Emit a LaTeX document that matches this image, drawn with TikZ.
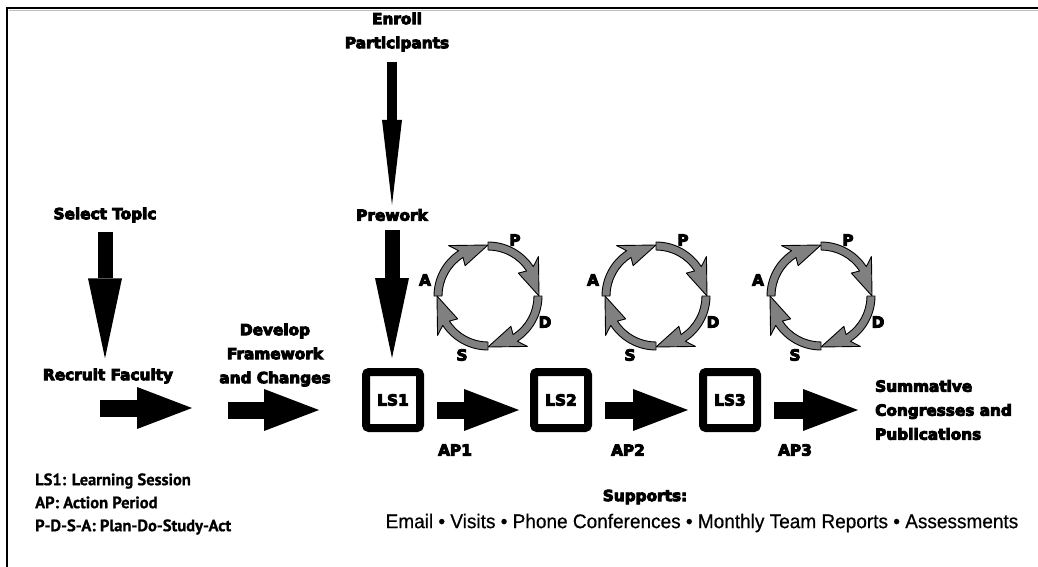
\documentclass[tikz,border=0pt]{standalone}
\usepackage{fontspec}
\usetikzlibrary{arrows.meta}
\newfontfamily\heavyfont{DejaVu Sans}[BoldFeatures={FakeBold=6}]
\newfontfamily\legendfont{PT Sans}[BoldFeatures={FakeBold=0.8}]
\newfontfamily\plainfont{Liberation Sans}[FakeStretch=0.96,FakeBold=0.6]
\definecolor{ringgray}{HTML}{808080}

\begin{document}
\begin{tikzpicture}[x=1pt,y=-1pt,
  every node/.style={inner sep=0pt},
  head/.style={font=\heavyfont\bfseries\fontsize{15.3}{24}\selectfont, align=center},
  tag/.style={font=\heavyfont\bfseries\fontsize{15.3}{18}\selectfont},
  legend/.style={font=\legendfont\bfseries\fontsize{16.5}{23}\selectfont, align=left},
  session/.style={draw, line width=8pt, rounded corners=3pt, minimum width=54pt, minimum height=56pt,
    font=\heavyfont\bfseries\fontsize{15.3}{18}\selectfont},
  downarrow/.style={line width=15pt, -{Triangle[length=80pt,width=34pt,line width=0pt]}},
  thinarrow/.style={line width=10pt, -{Triangle[length=85pt,width=20pt,line width=0pt]}},
  rightarrow/.style={line width=17pt, -{Triangle[length=55pt,width=42pt,line width=0pt]}},
  ring/.style={fill=ringgray, draw=black, line width=0.9pt, line join=round}]

  \useasboundingbox (0,0) rectangle (1038,567);
  % frame
  \draw[black!25, line width=1pt] (9,10.5) -- (1038,10.5);
  \draw[line width=1.6pt] (7,567) -- (7,8) -- (1038,8);

  % planning steps
  \node[head] (topic) at (105,215) {Select Topic};
  \node[head] (faculty) at (108,376) {Recruit Faculty};
  \node[head] (develop) at (275,355) {Develop\\Framework\\and Changes};
  \node[head] (enroll) at (397,32) {Enroll\\Participants};
  \node[head] (prework) at (392,215) {Prework};
  \draw[downarrow, shorten <=9pt, shorten >=10pt] (topic.south) -- (topic.south |- faculty.north);
  \draw[thinarrow, shorten <=10pt, shorten >=4pt] (enroll.south -| prework.north) -- (prework.north);
  \coordinate (f0) at (100,408); \coordinate (f1) at (192,408);
  \coordinate (d0) at (228,410); \coordinate (d1) at (319,410);
  \draw[rightarrow] (f0) -- (f1);
  \draw[rightarrow] (d0) -- (d1);

  % learning sessions and action periods
  \node[session] (ls1) at (393,400) {LS1};
  \node[session] (ls2) at (561,400) {LS2};
  \node[session] (ls3) at (730,400) {LS3};
  \node[head, align=left, anchor=west] (summative) at (875,410) {Summative\\Congresses and\\Publications};
  \draw[downarrow, shorten <=9pt, shorten >=10pt] (prework.south) -- (prework.south |- ls1.north);
  \draw[rightarrow, shorten <=13pt, shorten >=11pt] ([yshift=-10pt]ls1.east) -- ([yshift=-10pt]ls2.west);
  \draw[rightarrow, shorten <=13pt, shorten >=11pt] ([yshift=-10pt]ls2.east) -- ([yshift=-10pt]ls3.west);
  \draw[rightarrow, shorten <=13pt, shorten >=17pt] ([yshift=-10pt]ls3.east) -- (summative.west);
  \node[tag] (ap1) at (455,450) {AP1};
  \node[tag] (ap2) at (628,450) {AP2};
  \node[tag] (ap3) at (795,450) {AP3};

  % PDSA cycles
  \foreach \i/\cx in {1/488,2/656,3/821}{
    \begin{scope}[shift={(\cx,296)}, yscale=-1]
      \foreach \a in {180,90,0,-90}
        \draw[ring] (\a:54) arc[start angle=\a, end angle=\a-57, radius=54] -- (\a-52:64) -- (\a-90:51)
          -- (\a-53:38) -- (\a-57:46) arc[start angle=\a-57, end angle=\a, radius=46] -- cycle;
    \end{scope}
    \node[tag] (p\i) at (\cx+27,240) {P};
    \node[tag] (d\i) at (\cx+57,322) {D};
    \node[tag] (s\i) at (\cx-26,355) {S};
    \node[tag] (a\i) at (\cx-63,280) {A};
  }

  % key and supports
  \node[legend, anchor=west] (key) at (35,504) {LS1: Learning Session\\AP: Action Period\\P-D-S-A: Plan-Do-Study-Act};
  \node[head] (supports) at (645,497) {Supports:};
  \node[font=\plainfont\fontsize{19.8}{22}\selectfont] (channels) at (702,523)
    {Email • Visits • Phone Conferences • Monthly Team Reports • Assessments};
\end{tikzpicture}
\end{document}
